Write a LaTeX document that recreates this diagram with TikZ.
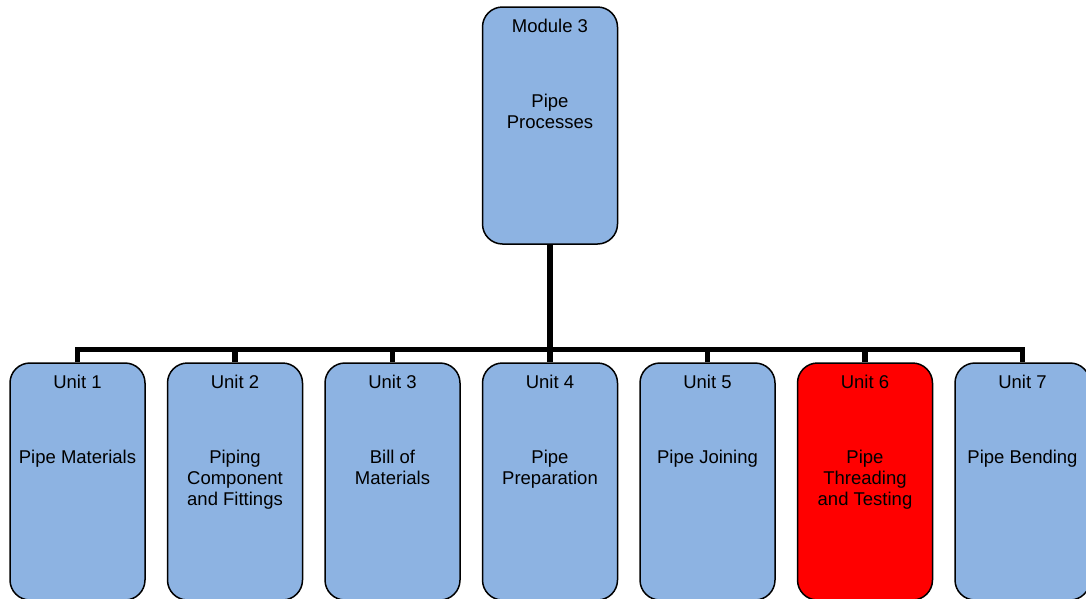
\documentclass[tikz,border=0pt]{standalone}
\usepackage{fontspec}
\setmainfont{Liberation Sans}
\usepackage{tikz}
\usetikzlibrary{positioning}
\definecolor{unitblue}{HTML}{8DB3E2}
\definecolor{unitred}{HTML}{FF0000}

\begin{document}
\begin{tikzpicture}[x=1pt,y=1pt,node distance=21pt,
    box/.style={draw=black,line width=1.5pt,rounded corners=20pt,fill=unitblue,
      minimum width=135pt,minimum height=237pt,inner sep=0pt},
    title/.style={anchor=north,inner sep=0pt,font=\fontsize{18.5}{21}\selectfont},
    body/.style={anchor=north,inner sep=0pt,align=center,font=\fontsize{18.5}{21}\selectfont},
    bus/.style={line width=5.5pt}]
  \useasboundingbox (0,0) rectangle (1086,-598);

  \node[box] (m3) at (550,-125.5) {};
  \node[box] (u4) at (550,-481.5) {};
  \node[box,left=of u4]  (u3) {};
  \node[box,left=of u3]  (u2) {};
  \node[box,left=of u2]  (u1) {};
  \node[box,right=of u4] (u5) {};
  \node[box,right=of u5,fill=unitred] (u6) {};
  \node[box,right=of u6] (u7) {};

  % texts
  \node[title] (m3t) at ([yshift=-13pt]m3.north) {Module 3};
  \node[body]  (m3b) at ([yshift=-88pt]m3.north) {Pipe\\Processes};
  \node[title] (u1t) at ([yshift=-13pt]u1.north) {Unit 1};
  \node[body]  (u1b) at ([yshift=-88pt]u1.north) {Pipe Materials};
  \node[title] (u2t) at ([yshift=-13pt]u2.north) {Unit 2};
  \node[body]  (u2b) at ([yshift=-88pt]u2.north) {Piping\\Component\\and Fittings};
  \node[title] (u3t) at ([yshift=-13pt]u3.north) {Unit 3};
  \node[body]  (u3b) at ([yshift=-88pt]u3.north) {Bill of\\Materials};
  \node[title] (u4t) at ([yshift=-13pt]u4.north) {Unit 4};
  \node[body]  (u4b) at ([yshift=-88pt]u4.north) {Pipe\\Preparation};
  \node[title] (u5t) at ([yshift=-13pt]u5.north) {Unit 5};
  \node[body]  (u5b) at ([yshift=-88pt]u5.north) {Pipe Joining};
  \node[title] (u6t) at ([yshift=-13pt]u6.north) {Unit 6};
  \node[body]  (u6b) at ([yshift=-88pt]u6.north) {Pipe\\Threading\\and Testing};
  \node[title] (u7t) at ([yshift=-13pt]u7.north) {Unit 7};
  \node[body]  (u7b) at ([yshift=-88pt]u7.north) {Pipe Bending};

  % connectors
  \coordinate (hub) at ([yshift=-104.5pt]m3.south);
  \draw[bus] (m3.south) -- (hub);
  \draw[bus] (u1.north) |- (hub) -| (u7.north);
  \draw[bus] (u2.north) -- (u2.north |- hub);
  \draw[bus] (u3.north) -- (u3.north |- hub);
  \draw[bus] (u4.north) -- (u4.north |- hub);
  \draw[bus] (u5.north) -- (u5.north |- hub);
  \draw[bus] (u6.north) -- (u6.north |- hub);
\end{tikzpicture}
\end{document}
